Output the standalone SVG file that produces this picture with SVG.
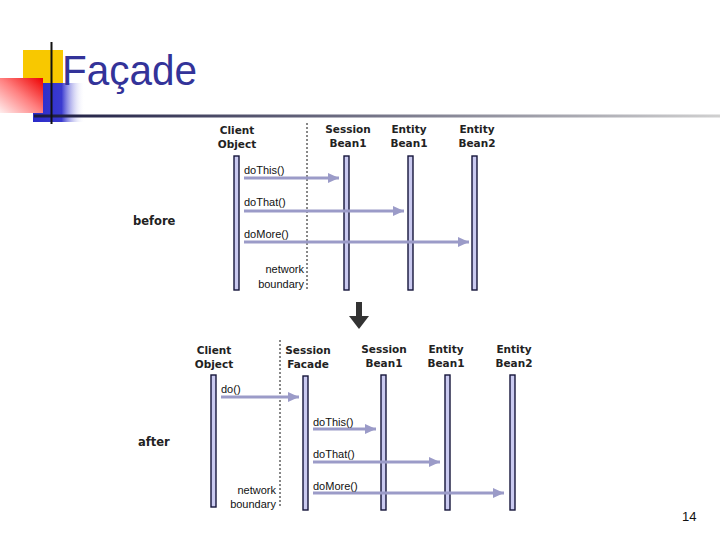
<svg xmlns="http://www.w3.org/2000/svg" width="720" height="540" viewBox="0 0 720 540">
<style>
.hdr{font-family:"DejaVu Sans",Verdana,sans-serif;font-size:10.5px;font-weight:bold;fill:#222}
.hdr{text-anchor:middle}
.msg{font-family:"Liberation Sans",Arial,sans-serif;font-size:11px;fill:#111}
.nb{font-family:"Liberation Sans",Arial,sans-serif;font-size:11px;fill:#111;text-anchor:end}
.side{font-family:"DejaVu Sans",Verdana,sans-serif;font-size:11.5px;font-weight:bold;fill:#222}
.life{fill:#cacaf0;stroke:#15153a;stroke-width:1.4}
.arr{stroke:#9b9bc8;stroke-width:3;fill:none;marker-end:url(#ah)}
.bound{stroke:#111;stroke-width:1;stroke-dasharray:2,2}
</style>
<defs>
<marker id="ah" markerUnits="userSpaceOnUse" markerWidth="11" markerHeight="10" refX="11" refY="5" orient="auto">
<path d="M0,0 L11,5 L0,10 z" fill="#9b9bc8"/>
</marker>
<linearGradient id="red" x1="0" y1="1" x2="1" y2="0">
<stop offset="0" stop-color="#ffeeee"/>
<stop offset="0.5" stop-color="#ff8080"/>
<stop offset="1" stop-color="#ee0000"/>
</linearGradient>
<linearGradient id="blue" x1="0" y1="0" x2="1" y2="0">
<stop offset="0" stop-color="#2a2ac8"/>
<stop offset="0.55" stop-color="#3a3ad0"/>
<stop offset="1" stop-color="#ffffff" stop-opacity="0"/>
</linearGradient>
<linearGradient id="hline" x1="0" y1="0" x2="1" y2="0">
<stop offset="0" stop-color="#1a1a40"/>
<stop offset="1" stop-color="#d0d0d0"/>
</linearGradient>
</defs>
<rect width="720" height="540" fill="#fff"/>
<g id="title-decor">
<rect x="23" y="50" width="40" height="36" fill="#f8c800"/>
<rect x="33" y="83" width="52" height="39" fill="url(#blue)"/>
<rect x="0" y="78" width="43" height="35" fill="url(#red)"/>
<rect x="34" y="114.5" width="686" height="3" fill="url(#hline)"/>
<rect x="50.5" y="42" width="2" height="82" fill="#111"/>
</g>
<text id="title" x="62" y="85" font-family="'Liberation Sans',Tahoma,sans-serif" font-size="42" fill="#333399" textLength="135" lengthAdjust="spacingAndGlyphs">Façade</text>

<g id="before-diagram">
<text class="side" x="133" y="225">before</text>
<g id="b-client"><text class="hdr" x="237" y="134">Client</text><text class="hdr" x="237" y="148">Object</text><rect class="life" x="234" y="156" width="5" height="134"/></g>
<g id="b-session"><text class="hdr" x="348" y="133">Session</text><text class="hdr" x="348" y="147">Bean1</text><rect class="life" x="344" y="156" width="5" height="134"/></g>
<g id="b-entity1"><text class="hdr" x="409" y="133">Entity</text><text class="hdr" x="409" y="147">Bean1</text><rect class="life" x="408" y="156" width="5" height="134"/></g>
<g id="b-entity2"><text class="hdr" x="477" y="133">Entity</text><text class="hdr" x="477" y="147">Bean2</text><rect class="life" x="472" y="156" width="5" height="134"/></g>
<g id="b-connectors">
<line class="bound" x1="307" y1="123" x2="307" y2="290"/>
<line class="arr" x1="244" y1="178" x2="339" y2="178"/>
<line class="arr" x1="244" y1="211" x2="404" y2="211"/>
<line class="arr" x1="244" y1="242" x2="469" y2="242"/>
</g>
<text class="msg" x="244" y="174">doThis()</text>
<text class="msg" x="244" y="206">doThat()</text>
<text class="msg" x="244" y="238">doMore()</text>
<text class="nb" x="304" y="273">network</text>
<text class="nb" x="304" y="288">boundary</text>
</g>

<g id="transition">
<rect x="356" y="302" width="6" height="16" fill="#333"/>
<path d="M349,316 L369,316 L359,329 z" fill="#333"/>
</g>

<g id="after-diagram">
<text class="side" x="138" y="446">after</text>
<g id="a-client"><text class="hdr" x="214" y="354">Client</text><text class="hdr" x="214" y="368">Object</text><rect class="life" x="211" y="375" width="5" height="132"/></g>
<g id="a-facade"><text class="hdr" x="308" y="354">Session</text><text class="hdr" x="308" y="368">Facade</text><rect class="life" x="303" y="376" width="5" height="134"/></g>
<g id="a-session"><text class="hdr" x="384" y="353">Session</text><text class="hdr" x="384" y="367">Bean1</text><rect class="life" x="381" y="375" width="5" height="135"/></g>
<g id="a-entity1"><text class="hdr" x="446" y="353">Entity</text><text class="hdr" x="446" y="367">Bean1</text><rect class="life" x="445" y="375" width="5" height="135"/></g>
<g id="a-entity2"><text class="hdr" x="514" y="353">Entity</text><text class="hdr" x="514" y="367">Bean2</text><rect class="life" x="510" y="375" width="5" height="135"/></g>
<g id="a-connectors">
<line class="bound" x1="280" y1="340" x2="280" y2="508"/>
<line class="arr" x1="221" y1="397" x2="299" y2="397"/>
<line class="arr" x1="313" y1="429" x2="376" y2="429"/>
<line class="arr" x1="313" y1="462" x2="440" y2="462"/>
<line class="arr" x1="313" y1="493" x2="504" y2="493"/>
</g>
<text class="msg" x="221" y="393">do()</text>
<text class="msg" x="313" y="426">doThis()</text>
<text class="msg" x="313" y="458">doThat()</text>
<text class="msg" x="313" y="490">doMore()</text>
<text class="nb" x="276" y="494">network</text>
<text class="nb" x="276" y="508">boundary</text>
</g>
<text id="page" x="682" y="521" font-family="'Liberation Sans',Arial,sans-serif" font-size="13" fill="#111">14</text>
</svg>
